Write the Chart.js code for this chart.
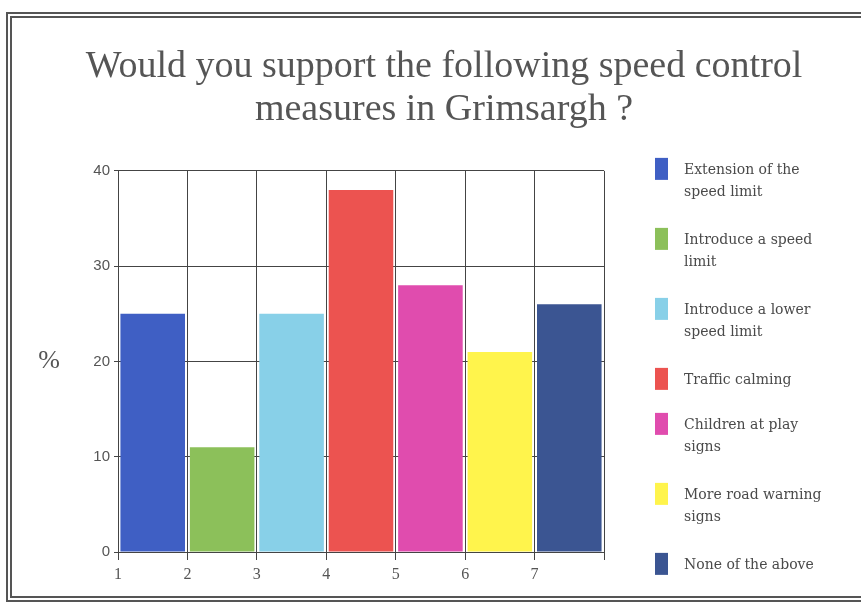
<!DOCTYPE html>
<html>
<head>
<meta charset="utf-8">
<script src="https://cdn.jsdelivr.net/npm/chart.js@4"></script>
<style>
  body { margin: 0; background: #fff; }
  #wrap { position: relative; width: 861px; height: 606px; overflow: hidden; }
  #frame { position: absolute; left: 6px; top: 12px; width: 900px; height: 590px;
           box-sizing: border-box; border: 6px double #555; pointer-events: none; }
  canvas { position: absolute; left: 0; top: 0; }
</style>
</head>
<body>
<div id="wrap">
  <canvas id="speedChart" width="861" height="606"></canvas>
  <div id="frame"></div>
</div>
<script>
// categories (x tick labels) and survey results in %
const tickLabels = ['1', '2', '3', '4', '5', '6', '7'];
const measures = [
  ['Extension of the', 'speed limit'],
  ['Introduce a speed', 'limit'],
  ['Introduce a lower', 'speed limit'],
  ['Traffic calming'],
  ['Children at play', 'signs'],
  ['More road warning', 'signs'],
  ['None of the above']
];
const support = [25, 11, 25, 38, 28, 21, 26];
const barColors = ['#3f5fc4', '#8cc05a', '#88d0e8', '#ec5350', '#e04cae', '#fff44c', '#3b5592'];

const gridColor = '#444';
const textColor = '#555';

// legend on the right with wrapped labels, plus the "%" axis caption
const sideLegend = {
  id: 'sideLegend',
  afterDraw(chart) {
    const { ctx, chartArea } = chart;
    ctx.save();
    ctx.fillStyle = textColor;
    ctx.font = '26px "Liberation Serif"';
    ctx.textAlign = 'center';
    ctx.textBaseline = 'middle';
    ctx.fillText('%', chartArea.left - 69, (chartArea.top + chartArea.bottom) / 2);

    const bx = chartArea.right + 51;
    let y = chartArea.top - 13;
    ctx.font = '14px "DejaVu Serif"';
    ctx.textAlign = 'left';
    ctx.textBaseline = 'alphabetic';
    measures.forEach((lines, i) => {
      ctx.fillStyle = barColors[i];
      ctx.fillRect(bx, y, 13, 22);
      ctx.fillStyle = '#4a4a4a';
      lines.forEach((t, j) => ctx.fillText(t, bx + 29, y + 16 + j * 22));
      y += lines.length * 25 + 20;
    });
    ctx.restore();
  }
};

const ctx = document.getElementById('speedChart').getContext('2d');

new Chart(ctx, {
  type: 'bar',
  data: {
    labels: tickLabels,
    datasets: [{
      data: support,
      backgroundColor: barColors,
      xAxisID: 'x',
      yAxisID: 'y',
      categoryPercentage: 1,
      barPercentage: 0.93
    }]
  },
  options: {
    responsive: false,
    animation: false,
    layout: { padding: { left: 27, top: 0, right: 0, bottom: 24 } },
    plugins: {
      legend: { display: false },
      tooltip: { enabled: false },
      title: {
        display: true,
        text: ['Would you support the following speed control', 'measures in Grimsargh ?'],
        color: textColor,
        font: { family: '"Liberation Serif"', size: 38, weight: 'normal', lineHeight: 1.13 },
        padding: { top: 46, bottom: 39 }
      }
    },
    scales: {
      x: { type: 'category', display: false },
      xt: {
        type: 'linear',
        position: 'bottom',
        min: 1,
        max: 8,
        offset: false,
        afterFit: s => { s.height = 30; },
        ticks: {
          stepSize: 1,
          padding: 5,
          color: textColor,
          font: { family: '"Liberation Serif"', size: 16 },
          callback: v => (v < 8 ? tickLabels[v - 1] : '')
        },
        grid: { color: gridColor, tickLength: 8, offset: false },
        border: { color: gridColor }
      },
      y: {
        min: 0,
        max: 40,
        afterFit: s => { s.width = 91; },
        ticks: {
          stepSize: 10,
          padding: 4,
          color: textColor,
          font: { family: '"Liberation Sans"', size: 15 }
        },
        grid: { color: gridColor, tickLength: 4 },
        border: { color: gridColor }
      },
      yr: {
        type: 'linear',
        position: 'right',
        afterFit: s => { s.width = 257; },
        ticks: { display: false },
        grid: { display: false, drawTicks: false },
        border: { display: false }
      }
    }
  },
  plugins: [sideLegend]
});
</script>
</body>
</html>
